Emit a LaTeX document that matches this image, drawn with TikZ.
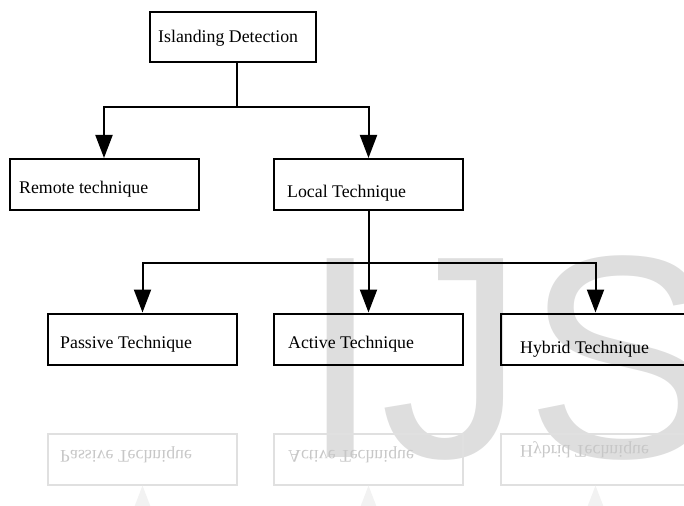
\documentclass[tikz,border=0pt]{standalone}
\usepackage{fontspec}
\setmainfont{Liberation Serif}
\newfontfamily\wmfont{Liberation Sans}
\usetikzlibrary{arrows.meta}
\begin{document}
\begin{tikzpicture}[x=1pt,y=-1pt,
  box/.style={draw=#1, line width=2pt, inner sep=0pt, minimum height=51pt, minimum width=189pt},
  box/.default=black,
  lbl/.style={anchor=base west, inner sep=0pt, font=\fontsize{17.8}{20}\selectfont, text=#1},
  lbl/.default=black,
  conn/.style={line width=2pt},
  arr/.style={line width=2pt, -{Triangle[length=23pt,width=17pt]}}]
\useasboundingbox (0,0) rectangle (684,505);
% watermark
\node[anchor=base west, inner sep=0pt, font=\fontsize{289}{289}\selectfont\wmfont, text=black!13] (wm) at (300,457) {IJS};
% faint reflection of the bottom row
\begin{scope}[cm={1,0,0,-1,(0pt,-798pt)}, transform shape]
  \node[box=black!12] (rp) at (142.5,339) {};
  \node[box=black!12] (ra) at (368.5,339) {};
  \node[box=black!12] (rh) at (595.5,339) {};
  \node[lbl=black!22] (rpt) at (60,348) {Passive Technique};
  \node[lbl=black!22] (rat) at (288,348) {Active Technique};
  \node[lbl=black!22] (rht) at (520,353) {Hybrid Technique};
  \coordinate (rpa) at (142.5,290);
  \coordinate (raa) at (368.5,290);
  \coordinate (rha) at (595.5,290);
  \draw[black!5, line width=2pt, -{Triangle[length=23pt,width=17pt]}] (rpa) -- (rp.north);
  \draw[black!5, line width=2pt, -{Triangle[length=23pt,width=17pt]}] (raa) -- (ra.north);
  \draw[black!5, line width=2pt, -{Triangle[length=23pt,width=17pt]}] (rha) -- (rh.north);
\end{scope}
% boxes
\node[box, line width=2.6pt, minimum width=166pt, minimum height=50pt] (isl) at (233,37) {};
\node[box] (rem) at (104,184.5) {};
\node[box] (loc) at (368.5,184.5) {};
\node[box] (pas) at (142.5,339) {};
\node[box] (act) at (368.5,339) {};
\node[box] (hyb) at (595.5,339) {};
% labels
\node[lbl] (islt) at (158,43) {Islanding Detection};
\node[lbl] (remt) at (19,193) {Remote technique};
\node[lbl] (loct) at (287,197) {Local Technique};
\node[lbl] (past) at (60,348) {Passive Technique};
\node[lbl] (actt) at (288,348) {Active Technique};
\node[lbl] (hybt) at (520,353) {Hybrid Technique};
% connectors
\coordinate (j1) at (237,107);
\coordinate (j2) at (368.5,263);
\draw[conn] (isl.south -| j1) -- (j1);
\draw[arr] (j1) -| (rem.north);
\draw[arr] (j1) -| (loc.north);
\draw[arr] (loc.south) -- (act.north);
\draw[arr] (j2) -| (pas.north);
\draw[arr] (j2) -| (hyb.north);
\end{tikzpicture}
\end{document}
